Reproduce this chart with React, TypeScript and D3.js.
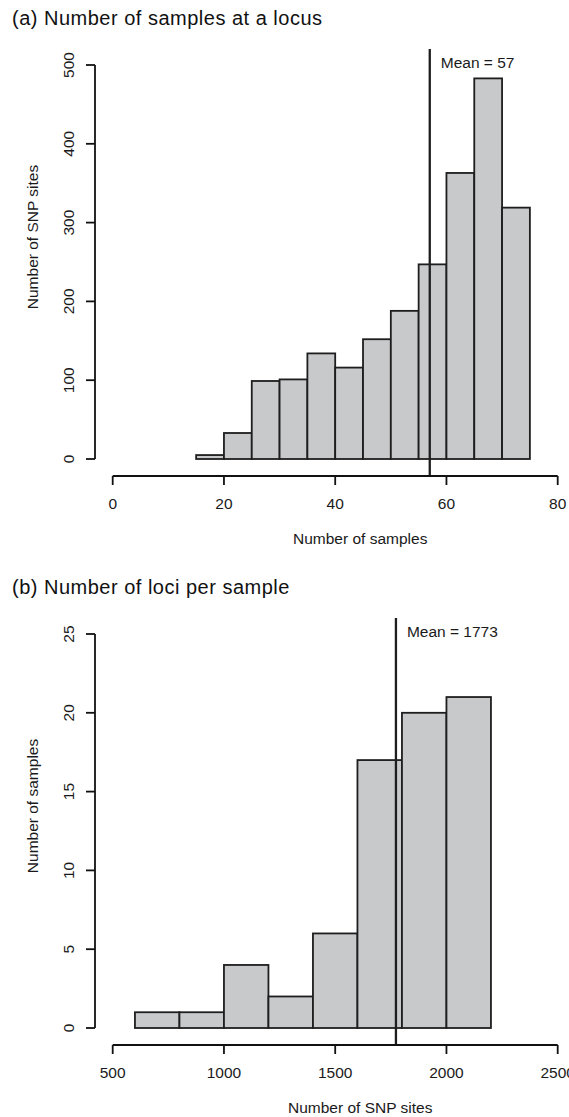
import React from "react";
import * as d3 from "d3";

// ---- Panel (a): Number of samples at a locus ----
const edgesA = [15, 20, 25, 30, 35, 40, 45, 50, 55, 60, 65, 70, 75];
const countsA = [5, 33, 99, 101, 134, 116, 152, 188, 247, 363, 483, 319];
const xTicksA = [0, 20, 40, 60, 80];
const yTicksA = [0, 100, 200, 300, 400, 500];
const meanA = 57;

// ---- Panel (b): Number of loci per sample ----
const edgesB = [600, 800, 1000, 1200, 1400, 1600, 1800, 2000, 2200];
const countsB = [1, 1, 4, 2, 6, 17, 20, 21];
const xTicksB = [500, 1000, 1500, 2000, 2500];
const yTicksB = [0, 5, 10, 15, 20, 25];
const meanB = 1773;

const FONT = "'Liberation Sans', Arial, Helvetica, sans-serif";
const FILL = "#c8c9cb";
const STROKE = "#1e1e1e";

type PanelProps = {
  top: number;
  title: string;
  edges: number[];
  counts: number[];
  xTicks: number[];
  yTicks: number[];
  mean: number;
  xLabel: string;
  yLabel: string;
};

function Panel({ top, title, edges, counts, xTicks, yTicks, mean, xLabel, yLabel }: PanelProps) {
  const x0 = 112.7, x1 = 557.7;
  const yZero = top + 434;
  const yMaxPx = top + 40;
  const plotTop = top + 24;
  const axisY = top + 451;
  const x = d3.scaleLinear().domain([xTicks[0], xTicks[xTicks.length - 1]]).range([x0, x1]);
  const y = d3.scaleLinear().domain([yTicks[0], yTicks[yTicks.length - 1]]).range([yZero, yMaxPx]);
  const axisX = 95;
  const bins = counts.map((c, i) => ({ a: edges[i], b: edges[i + 1], c }));
  return (
    <g>
      <text x={12} y={top} fontSize={20} letterSpacing={0.5} fontFamily={FONT} fill="#111">{title}</text>
      {bins.map((d, i) => (
        <rect key={i} x={x(d.a)} y={y(d.c)} width={x(d.b) - x(d.a)} height={y(0) - y(d.c)}
          fill={FILL} stroke={STROKE} strokeWidth={1.8} />
      ))}
      <line x1={x(mean)} x2={x(mean)} y1={plotTop} y2={axisY} stroke={STROKE} strokeWidth={2.3} />
      <text x={x(mean) + 11} y={plotTop + 19} fontSize={15.5} fontFamily={FONT} fill="#1a1a1a">{`Mean = ${mean}`}</text>
      <line x1={x(xTicks[0])} x2={x(xTicks[xTicks.length - 1])} y1={axisY} y2={axisY} stroke="#111" strokeWidth={1.8} />
      {xTicks.map((t) => (
        <g key={t}>
          <line x1={x(t)} x2={x(t)} y1={axisY} y2={axisY + 9} stroke="#111" strokeWidth={1.8} />
          <text x={x(t)} y={axisY + 33} textAnchor="middle" fontSize={15.5} fontFamily={FONT} fill="#1a1a1a">{t}</text>
        </g>
      ))}
      <text x={(x0 + x1) / 2 + 25} y={axisY + 68} textAnchor="middle" fontSize={15.5} fontFamily={FONT} fill="#1a1a1a">{xLabel}</text>
      <line x1={axisX} x2={axisX} y1={y(yTicks[0])} y2={y(yTicks[yTicks.length - 1])} stroke="#111" strokeWidth={1.8} />
      {yTicks.map((t) => (
        <g key={t}>
          <line x1={axisX - 9} x2={axisX} y1={y(t)} y2={y(t)} stroke="#111" strokeWidth={1.8} />
          <text transform={`translate(69,${y(t)}) rotate(-90)`} dy="0.35em" textAnchor="middle" fontSize={15.5} fontFamily={FONT} fill="#1a1a1a">{t}</text>
        </g>
      ))}
      <text transform={`translate(33,${(yZero + yMaxPx) / 2 - 25}) rotate(-90)`} dy="0.35em" textAnchor="middle" fontSize={15.5} fontFamily={FONT} fill="#1a1a1a">{yLabel}</text>
    </g>
  );
}

export default function App() {
  return (
    <svg width={569} height={1117} style={{ position: "absolute", left: 0, top: 0, background: "#fff" }}>
      <rect width={569} height={1117} fill="#fff" />
      <Panel top={25} title="(a) Number of samples at a locus" edges={edgesA} counts={countsA}
        xTicks={xTicksA} yTicks={yTicksA} mean={meanA} xLabel="Number of samples" yLabel="Number of SNP sites" />
      <Panel top={594} title="(b) Number of loci per sample" edges={edgesB} counts={countsB}
        xTicks={xTicksB} yTicks={yTicksB} mean={meanB} xLabel="Number of SNP sites" yLabel="Number of samples" />
    </svg>
  );
}
